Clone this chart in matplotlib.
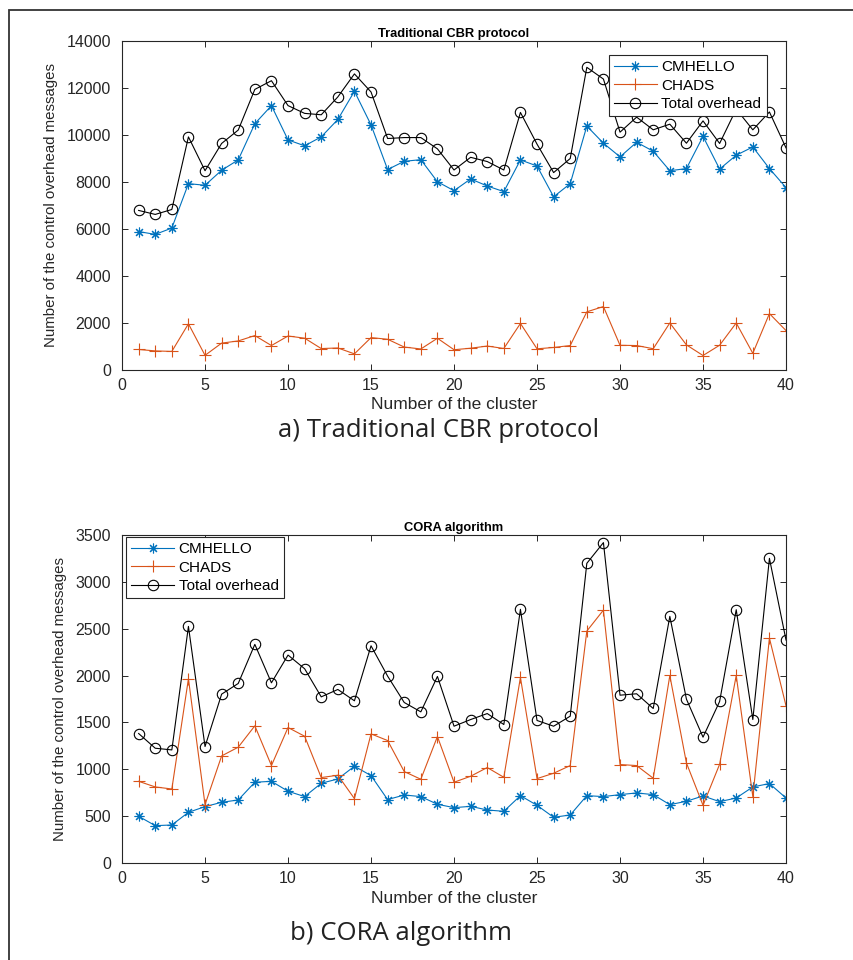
import numpy as np
import matplotlib
matplotlib.use("Agg")
import matplotlib.pyplot as plt
from matplotlib.patches import Rectangle

# cluster index 1..40
clusters = np.arange(1, 41)

# CHADS messages are the same in both schemes
chads = [872, 812, 790, 1966, 623, 1143, 1236, 1464, 1040, 1446,
         1353, 912, 937, 687, 1378, 1307, 976, 894, 1350, 862,
         926, 1019, 915, 1980, 901, 958, 1040, 2475, 2699, 1051,
         1040, 905, 2001, 1068, 616, 1054, 2001, 709, 2400, 1677]

# traditional CBR
cbr_cmhello = [5890, 5770, 6040, 7930, 7860, 8500, 8940, 10480, 11250, 9790,
               9540, 9920, 10660, 11860, 10430, 8530, 8880, 8950, 8010, 7630,
               8130, 7830, 7590, 8940, 8680, 7370, 7930, 10380, 9650, 9070,
               9690, 9310, 8480, 8570, 9940, 8550, 9140, 9490, 8570, 7760]
cbr_total = [6790, 6620, 6830, 9920, 8480, 9640, 10210, 11940, 12310, 11250,
             10920, 10860, 11620, 12600, 11830, 9850, 9890, 9890, 9410, 8510,
             9050, 8870, 8510, 10960, 9610, 8400, 9000, 12880, 12380, 10120,
             10760, 10220, 10460, 9650, 10600, 9640, 11100, 10220, 10980, 9450]

# CORA
cora_cmhello = [499, 399, 406, 541, 602, 648, 673, 862, 872, 766,
                709, 851, 897, 1033, 933, 677, 726, 709, 627, 591,
                605, 566, 552, 719, 616, 488, 513, 719, 709, 730,
                748, 730, 623, 659, 716, 655, 694, 812, 848, 694]
cora_total = [1382, 1225, 1207, 2525, 1243, 1802, 1916, 2333, 1923, 2219,
              2073, 1773, 1852, 1731, 2318, 1994, 1713, 1613, 1991, 1460,
              1531, 1595, 1478, 2707, 1521, 1460, 1567, 3198, 3419, 1791,
              1806, 1649, 2632, 1749, 1343, 1724, 2703, 1531, 3251, 2379]

plt.rcParams['font.family'] = ['Liberation Sans', 'DejaVu Sans']
blue = '#0072BD'
orange = '#D95319'
grey = '#262626'
asterisk = (8, 2, 0)

fig = plt.figure(figsize=(8.54, 9.6), dpi=100)
ax1 = fig.add_axes([0.1429, 0.6146, 0.7775, 0.3427])
ax2 = fig.add_axes([0.1429, 0.1010, 0.7775, 0.3417])

def draw(ax, cm, total, title, ymax, ystep):
    ax.plot(clusters, cm, color=blue, lw=0.8, marker=asterisk, ms=7, mew=0.8, label='CMHELLO')
    ax.plot(clusters, chads, color=orange, lw=0.8, marker='+', ms=8, mew=0.8, label='CHADS')
    ax.plot(clusters, total, color='black', lw=0.8, marker='o', ms=7.5, mew=0.8,
            mfc='none', label='Total overhead')
    ax.set_xlim(0, 40)
    ax.set_ylim(0, ymax)
    ax.set_xticks(np.arange(0, 41, 5))
    ax.set_yticks(np.arange(0, ymax + 1, ystep))
    ax.tick_params(direction='in', top=True, right=True, length=4, width=0.7,
                   colors=grey, labelsize=11.5)
    ax.tick_params(axis='x', pad=6)
    ax.tick_params(axis='y', pad=8)
    for s in ax.spines.values():
        s.set_color(grey)
        s.set_linewidth(0.8)
    ax.set_title(title, fontsize=9.3, fontweight='bold', pad=3, color='black')
    ax.set_xlabel('Number of the cluster', fontsize=12.5, color=grey, labelpad=3)
    ax.set_ylabel('Number of the control overhead messages', fontsize=10.8,
                  color=grey, labelpad=6)

draw(ax1, cbr_cmhello, cbr_total, 'Traditional CBR protocol', 14000, 2000)
draw(ax2, cora_cmhello, cora_total, 'CORA algorithm', 3500, 500)

leg_kw = dict(fontsize=11, labelspacing=0.28, handlelength=2.8, handletextpad=0.3,
              borderpad=0.35, borderaxespad=0, fancybox=False, framealpha=1,
              edgecolor=grey)
l1 = ax1.legend(loc='upper right', bbox_to_anchor=(0.971, 0.957), **leg_kw)
l2 = ax2.legend(loc='upper left', bbox_to_anchor=(0.006, 0.994), **leg_kw)
for l in (l1, l2):
    l.get_frame().set_linewidth(0.8)

# sub-figure captions
fig.text(278 / 854, 1 - 437 / 960, 'a) Traditional CBR protocol', family='Open Sans',
         fontsize=18.5, color='#222222', ha='left', va='baseline')
fig.text(290 / 854, 1 - 940 / 960, 'b) CORA algorithm', family='Open Sans',
         fontsize=18.5, color='#222222', ha='left', va='baseline')

# outer frame (open at the right and bottom)
fig.add_artist(Rectangle((9 / 854, -0.1), 1.2, 1.1 - 10 / 960, transform=fig.transFigure,
                         fill=False, edgecolor='#333333', lw=1.3))

fig.savefig('out.png', dpi=100)
